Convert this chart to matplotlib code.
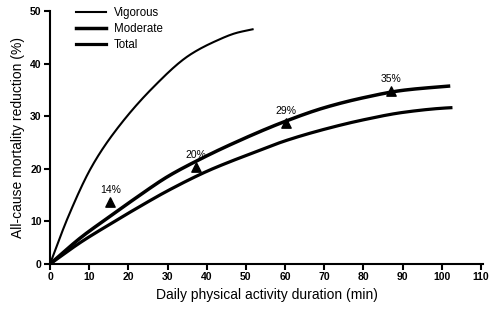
import numpy as np
import matplotlib.pyplot as plt

plt.rcParams['font.family'] = ['Liberation Sans', 'DejaVu Sans']

# curves
vig_x = [0, 4.6, 10.5, 16.0, 26.1, 35.6, 42.4, 47.5, 51.7]
vig_y = [0, 10.8, 20.2, 26.5, 35.3, 41.6, 44.3, 45.8, 46.5]

mod_x = [0, 8.0, 15.6, 22.4, 30, 37.2, 45.8, 60, 70, 80, 90, 100, 101.7]
mod_y = [0, 6.3, 11.1, 14.7, 18.5, 21.4, 24.5, 29.0, 31.6, 33.5, 34.9, 35.6, 35.7]

tot_x = [0, 8.0, 15.6, 22.4, 30, 40, 45.8, 50, 60, 70, 80, 90, 100, 102.3]
tot_y = [0, 5.2, 9.5, 12.6, 15.8, 19.5, 21.3, 22.5, 25.3, 27.5, 29.3, 30.7, 31.5, 31.6]

# observed points with labels
pt_x = [15.4, 37.2, 60.3, 87.0]
pt_y = [13.6, 20.4, 28.7, 34.7]
pt_labels = ['14%', '20%', '29%', '35%']


# the original y axis is compressed between 0 and 10
def fwd(y):
    y = np.asarray(y, dtype=float)
    return np.where(y < 10, y * 0.811, y - 10 + 8.11)


def inv(v):
    v = np.asarray(v, dtype=float)
    return np.where(v < 8.11, v / 0.811, v - 8.11 + 10)


def pchip(xs, ys, n=300):
    # monotone cubic (Fritsch-Carlson) through the read points
    xs = np.asarray(xs, float)
    ys = np.asarray(ys, float)
    h = np.diff(xs)
    s = np.diff(ys) / h
    d = np.zeros_like(ys)
    for k in range(1, len(xs) - 1):
        if s[k - 1] * s[k] > 0:
            w1 = 2 * h[k] + h[k - 1]
            w2 = h[k] + 2 * h[k - 1]
            d[k] = (w1 + w2) / (w1 / s[k - 1] + w2 / s[k])
    d[0] = s[0]
    d[-1] = s[-1]
    xn = np.linspace(xs[0], xs[-1], n)
    k = np.clip(np.searchsorted(xs, xn, side='right') - 1, 0, len(xs) - 2)
    t = (xn - xs[k]) / h[k]
    yn = ((2 * t**3 - 3 * t**2 + 1) * ys[k] + (t**3 - 2 * t**2 + t) * h[k] * d[k]
          + (-2 * t**3 + 3 * t**2) * ys[k + 1] + (t**3 - t**2) * h[k] * d[k + 1])
    return xn, yn


def curve(xs, ys):
    # smooth in the drawn (scaled) space so the kink at 10 does not show
    xn, vn = pchip(xs, fwd(ys))
    return xn, inv(vn)


fig = plt.figure(figsize=(5, 3.11), dpi=100)
ax = fig.add_axes([0.1, 0.151, 0.866, 0.814])
ax.set_yscale('function', functions=(fwd, inv))

ax.plot(*curve(vig_x, vig_y), color='black', lw=1.5, label='Vigorous')
ax.plot(*curve(mod_x, mod_y), color='black', lw=2.5, label='Moderate')
ax.plot(*curve(tot_x, tot_y), color='black', lw=2.3, label='Total')

ax.scatter(pt_x, pt_y, marker='^', s=45, color='black', zorder=3)
for x, y, t in zip(pt_x, pt_y, pt_labels):
    ax.annotate(t, (x, y), xytext=(0, 5), textcoords='offset points',
                ha='center', va='bottom', fontsize=7.5)

ax.set_xlim(0, 110.5)
ax.set_ylim(0, 50)
ax.set_xticks(range(0, 111, 10))
ax.set_yticks(range(0, 51, 10))
ax.yaxis.set_major_formatter(plt.FuncFormatter(lambda v, p: f'{v:.0f}'))
ax.yaxis.set_minor_locator(plt.NullLocator())
for lab in ax.get_xticklabels() + ax.get_yticklabels():
    lab.set_fontweight('bold')
ax.tick_params(direction='out', length=4, width=1.5, labelsize=7.5, pad=2)
ax.spines['top'].set_visible(False)
ax.spines['right'].set_visible(False)
ax.spines['left'].set_linewidth(1.5)
ax.spines['bottom'].set_linewidth(1.5)

ax.set_xlabel('Daily physical activity duration (min)', fontsize=10, labelpad=4)
ax.set_ylabel('All-cause mortality reduction (%)', fontsize=10, labelpad=4)

ax.legend(loc='upper left', bbox_to_anchor=(0.035, 1.055), frameon=False,
          fontsize=8.3, handlelength=2.6, handletextpad=0.75, labelspacing=0.35)

fig.savefig('out.png', dpi=100)
